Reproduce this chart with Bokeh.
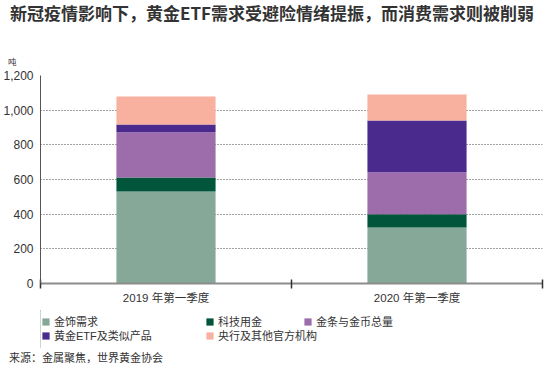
from bokeh.plotting import figure
from bokeh.models import (ColumnDataSource, FixedTicker, NumeralTickFormatter,
                          Legend, LegendItem, Range1d, Div)
from bokeh.layouts import column
from bokeh.embed import file_html
from bokeh.resources import INLINE

# ---- data ----
categories = ["2019 年第一季度", "2020 年第一季度"]
jewellery = [531, 323]
technology = [81, 76]
bar_coin = [260, 243]
etf = [45, 298]
central_banks = [162, 150]

series_keys = ["jewellery", "technology", "bar_coin", "etf", "central_banks"]
series_labels = ["金饰需求", "科技用金", "金条与金币总量", "黄金ETF及类似产品", "央行及其他官方机构"]
colors = ["#86A899", "#00553A", "#9D6CAB", "#4A2A8C", "#F8B09F"]
y_ticks = [0, 200, 400, 600, 800, 1000, 1200]

title_text = "新冠疫情影响下，黄金ETF需求受避险情绪提振，而消费需求则被削弱"
unit_text = "吨"
source_text = "来源：金属聚焦，世界黄金协会"

CJK = "'Liberation Sans', 'Noto Sans CJK SC'"
W = 558
BL, BR = 40, 16   # frame left / right borders

xs = [i + 0.5 for i in range(len(categories))]
source = ColumnDataSource(dict(x=xs, jewellery=jewellery, technology=technology,
                               bar_coin=bar_coin, etf=etf, central_banks=central_banks))

# ---- header (title + unit) ----
header = Div(width=W, height=68, margin=0, text=(
    '<div style="position:relative;width:%dpx;height:68px;">'
    '<div style="position:absolute;left:10px;top:2px;white-space:nowrap;'
    'font-family:\'Noto Sans CJK SC\';font-weight:bold;font-size:17px;line-height:21px;'
    'color:#333333;">%s</div>'
    '<div style="position:absolute;left:8px;top:56px;white-space:nowrap;'
    'font-family:\'Noto Sans CJK SC\';font-size:8.5px;line-height:11px;color:#333333;">%s</div>'
    '</div>') % (W, title_text, unit_text))

# ---- main chart ----
p = figure(width=W, height=242, output_backend="svg", toolbar_location=None,
           x_range=Range1d(0, len(categories)), y_range=Range1d(0, 1200),
           min_border_left=BL, min_border_right=BR, min_border_top=7, min_border_bottom=27)
p.outline_line_color = None
p.background_fill_color = "white"
p.border_fill_color = "white"

p.vbar_stack(series_keys, x="x", width=0.395, color=colors, line_color=None, source=source)

xa = p.xaxis[0]
xa.ticker = FixedTicker(ticks=xs, minor_ticks=list(range(len(categories) + 1)))
xa.major_label_overrides = {x: c for x, c in zip(xs, categories)}
xa.major_tick_line_color = None
xa.major_tick_in = 0
xa.major_tick_out = 0
xa.minor_tick_in = 4
xa.minor_tick_out = 5
xa.minor_tick_line_color = "#333333"
xa.minor_tick_line_width = 1.5
xa.axis_line_color = "#8C8C8C"
xa.axis_line_width = 2
xa.major_label_standoff = 3
xa.major_label_text_font = CJK
xa.major_label_text_font_size = "11.5px"
xa.major_label_text_color = "#333333"

ya = p.yaxis[0]
ya.ticker = FixedTicker(ticks=y_ticks)
ya.formatter = NumeralTickFormatter(format="0,0")
ya.major_tick_in = 0
ya.major_tick_out = 0
ya.minor_tick_line_color = None
ya.axis_line_color = "#555555"
ya.axis_line_width = 1
ya.major_label_standoff = 7
ya.major_label_text_font = "Liberation Sans"
ya.major_label_text_font_size = "12px"
ya.major_label_text_color = "#333333"

p.xgrid.grid_line_color = None
p.ygrid.ticker = FixedTicker(ticks=y_ticks)
p.ygrid.grid_line_color = "#444444"
p.ygrid.grid_line_dash = "1 2"
p.ygrid.grid_line_width = 1

# ---- footer legend ----
H2 = 38
footer = figure(width=W, height=H2, output_backend="svg", toolbar_location=None,
                x_range=Range1d(0, 1), y_range=Range1d(0, 1),
                x_axis_type=None, y_axis_type=None,
                min_border_left=BL, min_border_right=BR, min_border_top=0, min_border_bottom=0)
footer.outline_line_color = None
footer.xgrid.visible = False
footer.ygrid.visible = False
footer.background_fill_color = "white"
footer.border_fill_color = "white"
footer.extra_x_ranges = {"hidden": Range1d(100, 101)}
legend_renderers = footer.vbar_stack(series_keys, x="x", width=0.395, color=colors,
                                     line_color=None, source=source, x_range_name="hidden")
leg_pos = [(1, 19), (165, 19), (263, 19), (1, 5), (165, 5)]
for r, lab, pos in zip(legend_renderers, series_labels, leg_pos):
    lg = Legend(items=[LegendItem(label=lab, renderers=[r])], location=pos,
                orientation="horizontal", glyph_width=9, glyph_height=9,
                label_standoff=4, label_text_font=CJK, label_text_font_size="11px",
                label_text_color="#333333", label_height=9, padding=0, margin=0,
                spacing=0, border_line_color=None, background_fill_alpha=0)
    footer.add_layout(lg, "center")

# ---- source line ----
src = Div(width=W, height=26, margin=0, text=(
    '<div style="position:relative;width:%dpx;height:26px;">'
    '<div style="position:absolute;left:9px;top:2px;white-space:nowrap;'
    'font-family:\'Noto Sans CJK SC\';font-size:11px;line-height:14px;color:#333333;">%s</div>'
    '</div>') % (W, source_text))

layout = column(header, p, footer, src, spacing=0)
open("out.html", "w").write(file_html(layout, INLINE))
